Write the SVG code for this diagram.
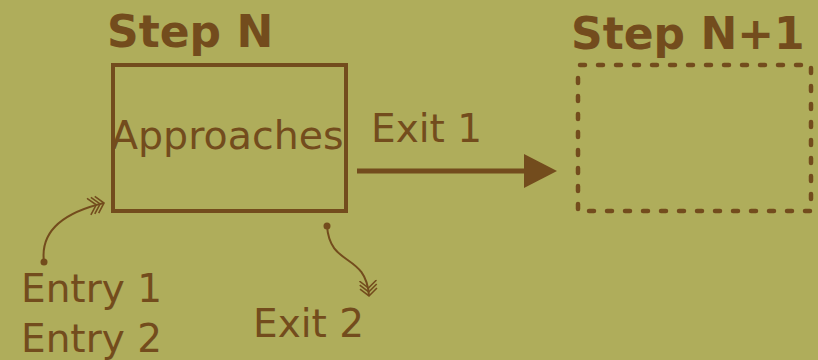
<svg xmlns="http://www.w3.org/2000/svg" width="818" height="360" viewBox="0 0 818 360">
<defs>
<style>
.t{font-family:"DejaVu Sans",sans-serif;fill:#734c1d;}
.h{font-weight:bold;font-size:44px;}
.n{font-size:39px;}
.ln{fill:none;stroke:#734c1d;}
</style>
<marker id="chev" viewBox="0 0 17 20" refX="16" refY="10" markerWidth="17" markerHeight="20" markerUnits="userSpaceOnUse" orient="auto">
<path d="M0.5,1.5 L8,10 L0.5,18.5 M4.5,1.5 L12,10 L4.5,18.5 M8.5,1.5 L16,10 L8.5,18.5" fill="none" stroke="#734c1d" stroke-width="1.6"/>
</marker>
</defs>
<rect width="818" height="360" fill="#afad5b"/>
<g id="stepN">
<text class="t h" x="107" y="47">Step N</text>
<rect class="ln" x="113" y="65" width="233" height="146" stroke-width="4"/>
<text class="t n" x="111" y="149" style="font-size:39.5px">Approaches</text>
</g>
<g id="stepN1">
<text class="t h" x="571" y="49">Step N+1</text>
<rect class="ln" x="578" y="65" width="233" height="146" stroke-width="4.5" stroke-dasharray="5 13" stroke-dashoffset="-2" stroke-linecap="round"/>
</g>
<g id="entries">
<text class="t n" x="21" y="302">Entry 1</text>
<text class="t n" x="21" y="352">Entry 2</text>
</g>
<g id="exit2label">
<text class="t n" x="253" y="337">Exit 2</text>
</g>
<g id="connectors">
<line class="ln" x1="357" y1="171" x2="528" y2="171" stroke-width="5"/>
<polygon points="524,154 557,171 524,188" fill="#734c1d"/>
<text class="t n" x="371" y="142">Exit 1</text>
<circle cx="44" cy="262" r="3.5" fill="#734c1d"/>
<path class="ln" d="M44,262 C40,232 62,213 104,203" stroke-width="2" marker-end="url(#chev)"/>
<circle cx="327" cy="226" r="3.5" fill="#734c1d"/>
<path class="ln" d="M327,226 C330,268 366,252 369,296" stroke-width="2" marker-end="url(#chev)"/>
</g>
</svg>
